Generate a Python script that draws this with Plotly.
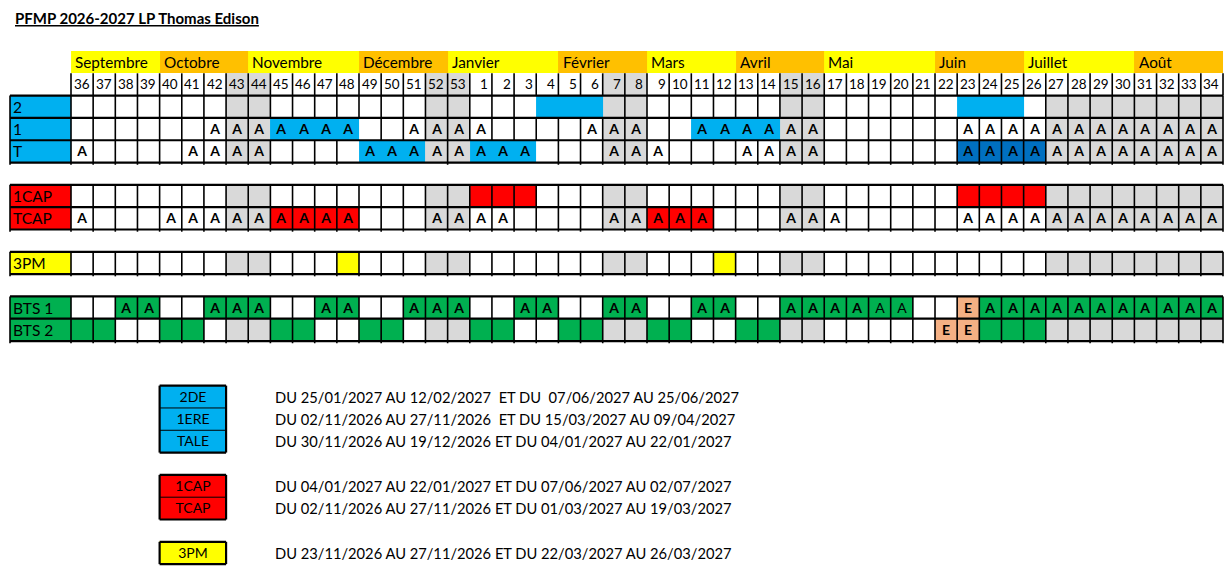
import plotly.graph_objects as go

# ---------------- data ----------------
TITLE = "PFMP 2026-2027 LP Thomas Edison"

weeks = list(range(36, 54)) + list(range(1, 35))

months = ["Septembre", "Octobre", "Novembre", "Décembre", "Janvier", "Février",
          "Mars", "Avril", "Mai", "Juin", "Juillet", "Août"]
month_spans = [4, 4, 5, 4, 5, 4, 4, 4, 5, 4, 5, 4]

# one character per week column (36..53 | 1..34)
# w=white g=holiday b=PFMP d=PFMP(dark) r=CAP y=3PM G=BTS o=exam
header_fill = "wwwwwwwggwwwwwwwgg" + "wwwwwwgg" + "wwwwwwgg" + "wwwwwwwwww" + "wwwwwwww"

row_labels = ["2", "1", "T", "1CAP", "TCAP", "3PM", "BTS 1", "BTS 2"]
row_label_fill = ["b", "b", "b", "r", "r", "y", "G", "G"]

fill_2 = "wwwwwwwggwwwwwwwgg" + "wwwbbbgg" + "wwwwwwgg" + "wwwwwwbbbw" + "gggggggg"
text_2 = " " * 52
fill_1 = "wwwwwwwggbbbbwwwgg" + "wwwwwwgg" + "wwbbbbgg" + "wwwwwwwwww" + "gggggggg"
text_1 = "      AAAAAAA  AAA" + "A    AAA" + "  AAAAAA" + "      AAAA" + "AAAAAAAA"
fill_T = "wwwwwwwggwwwwbbbgg" + "bbbwwwgg" + "wwwwwwgg" + "wwwwwwdddd" + "gggggggg"
text_T = "A    AAAA    AAAAA" + "AAA   AA" + "A   AAAA" + "      AAAA" + "AAAAAAAA"
fill_1CAP = "wwwwwwwggwwwwwwwgg" + "rrrwwwgg" + "wwwwwwgg" + "wwwwwwrrrr" + "gggggggg"
text_1CAP = " " * 52
fill_TCAP = "wwwwwwwggrrrrwwwgg" + "wwwwwwgg" + "rrrwwwgg" + "wwwwwwwwww" + "gggggggg"
text_TCAP = "A   AAAAAAAAA   AA" + "AA    AA" + "AAA   AA" + "A     AAAA" + "AAAAAAAA"
fill_3PM = "wwwwwwwggwwwywwwgg" + "wwwwwwgg" + "wwwywwgg" + "wwwwwwwwww" + "gggggggg"
text_3PM = " " * 52
fill_BTS1 = "wwGGwwGGGwwGGwwGGG" + "wwGGwwGG" + "wwGGwwGG" + "GGGGwwoGGG" + "GGGGGGGG"
text_BTS1 = "  AA  AAA  AA  AAA" + "  AA  AA" + "  AA  AA" + "AAaa  EAAA" + "AAAAAAAA"
fill_BTS2 = "GGwwGGwggGGwwGGwgg" + "GGwwGGgg" + "GGwwGGgg" + "wwwwwooGGG" + "gggggggg"
text_BTS2 = " " * 34 + "     EE   " + " " * 8

row_fills = [fill_2, fill_1, fill_T, fill_1CAP, fill_TCAP, fill_3PM, fill_BTS1, fill_BTS2]
row_texts = [text_2, text_1, text_T, text_1CAP, text_TCAP, text_3PM, text_BTS1, text_BTS2]

legend_labels = ["2DE", "1ERE", "TALE", "1CAP", "TCAP", "3PM"]
legend_fill = ["b", "b", "b", "r", "r", "y"]
legend_text = [
    "DU 25/01/2027 AU 12/02/2027\u00a0 ET DU\u00a0 07/06/2027 AU 25/06/2027",
    "DU 02/11/2026 AU 27/11/2026\u00a0 ET DU 15/03/2027 AU 09/04/2027",
    "DU 30/11/2026 AU 19/12/2026 ET DU 04/01/2027 AU 22/01/2027",
    "DU 04/01/2027 AU 22/01/2027 ET DU 07/06/2027 AU 02/07/2027",
    "DU 02/11/2026 AU 27/11/2026 ET DU 01/03/2027 AU 19/03/2027",
    "DU 23/11/2026 AU 27/11/2026 ET DU 22/03/2027 AU 26/03/2027",
]

# ---------------- style ----------------
CODES = "wgbdryGoO"
PALETTE = ["#FFFFFF", "#D9D9D9", "#00B0F0", "#0070C0", "#FF0000",
           "#FFFF00", "#00B050", "#F4B084", "#FFC000"]
colorscale = [[i / (len(CODES) - 1), c] for i, c in enumerate(PALETTE)]
FONT = "Lato"
NCOL = len(weeks)
LW = 2.753          # label column width (in week columns)
STUB = 0.1


def code(ch):
    return CODES.index(ch)


# ---------------- main grid heatmap ----------------
z, txt = [], []
# month row
mrow = []
for i, span in enumerate(month_spans):
    mrow += [code("y" if i % 2 == 0 else "O")] * span
z.append([None] + mrow)
txt.append([""] * (NCOL + 1))
# week number row
z.append([None] + [code(c) for c in header_fill])
txt.append([""] * (NCOL + 1))

groups = []
row_y = []
prev = None
for lab, lf, f, t in zip(row_labels, row_label_fill, row_fills, row_texts):
    if prev is not None and lf != prev:
        z.append([None] * (NCOL + 1))
        txt.append([""] * (NCOL + 1))
        groups.append([])
    if prev is None:
        groups.append([])
    prev = lf
    r = len(z)
    groups[-1].append(r)
    row_y.append(r)
    z.append([code(lf)] + [code(c) for c in f])
    cells = [""]
    for ch in t:
        if ch == " ":
            cells.append("")
        elif ch.islower():
            cells.append(ch.upper())
        else:
            cells.append("<b>" + ch + "</b>")
    txt.append(cells)

nrows = len(z)
x_edges = [-LW] + list(range(0, NCOL + 1))
y_edges = list(range(0, nrows + 1))

fig = go.Figure()
fig.add_trace(go.Heatmap(
    z=z, x=x_edges, y=y_edges, text=txt, texttemplate="%{text}",
    textfont=dict(family=FONT, size=14, color="black"),
    colorscale=colorscale, zmin=0, zmax=len(CODES) - 1,
    showscale=False, hoverinfo="skip"))

# ---------------- legend heatmap ----------------
leg_top = nrows + 2
lz, lt, lrows = [], [], []
prev = None
for lab, lf in zip(legend_labels, legend_fill):
    if prev is not None and lf != prev:
        lz.append([None])
        lt.append([""])
    prev = lf
    lrows.append(leg_top + len(lz))
    lz.append([code(lf)])
    lt.append([lab])
leg_x = [4, 7]
fig.add_trace(go.Heatmap(
    z=lz, x=leg_x, y=list(range(leg_top, leg_top + len(lz) + 1)), text=lt,
    texttemplate="%{text}", textfont=dict(family=FONT, size=14, color="black"),
    colorscale=colorscale, zmin=0, zmax=len(CODES) - 1,
    showscale=False, hoverinfo="skip"))

# ---------------- borders ----------------
hx, hy, vx, vy, tx, ty = [], [], [], [], [], []


def seg(xs, ys, x0, y0, x1, y1):
    xs += [x0, x1, None]
    ys += [y0, y1, None]


# header week row verticals
for k in range(NCOL + 1):
    seg(vx, vy, k, 1, k, 2)

fills_by_row = dict(zip(row_y, row_fills))
for g in groups:
    top, bot = g[0], g[-1] + 1
    for yy in range(top, bot + 1):
        seg(hx, hy, -LW, yy, NCOL, yy)
    seg(vx, vy, -LW, top, -LW, bot + STUB)
    seg(vx, vy, 0, top, 0, bot + STUB)
    for k in range(1, NCOL + 1):
        run_start = None
        for r in g + [None]:
            draw = False
            if r is not None:
                f = fills_by_row[r]
                left = f[k - 1]
                right = f[k] if k < NCOL else "w"
                draw = not (left == "b" or right == "b")
            if draw and run_start is None:
                run_start = r
            if not draw and run_start is not None:
                end = r if r is not None else bot
                seg(vx, vy, k, run_start, k, end + (STUB if end == bot else 0))
                run_start = None

# legend box borders
lgroups = []
prev = None
for r, lf in zip(lrows, legend_fill):
    if lf != prev:
        lgroups.append([])
    prev = lf
    lgroups[-1].append(r)
for g in lgroups:
    top, bot = g[0], g[-1] + 1
    seg(hx, hy, leg_x[0], top, leg_x[1], top)
    seg(hx, hy, leg_x[0], bot, leg_x[1], bot)
    seg(hx, hy, leg_x[0], top, leg_x[0], bot)
    seg(hx, hy, leg_x[1], top, leg_x[1], bot)
    for yy in range(top + 1, bot):
        seg(tx, ty, leg_x[0], yy, leg_x[1], yy)

fig.add_trace(go.Scatter(x=vx, y=vy, mode="lines", line=dict(color="black", width=1.6),
                         hoverinfo="skip"))
fig.add_trace(go.Scatter(x=hx, y=hy, mode="lines", line=dict(color="black", width=2.2),
                         hoverinfo="skip"))
fig.add_trace(go.Scatter(x=tx, y=ty, mode="lines", line=dict(color="black", width=1),
                         hoverinfo="skip"))

# ---------------- text ----------------
ann = []
ann.append(dict(x=-LW + 0.14, y=-1.5, text="<b>" + TITLE + "</b>", xanchor="left",
                showarrow=False, font=dict(family=FONT, size=15, color="black",
                                           lineposition="under")))
start = 0
for m, span in zip(months, month_spans):
    ann.append(dict(x=start + 0.1, y=0.5, text=m, xanchor="left", showarrow=False,
                    font=dict(family=FONT, size=15.3, color="black")))
    start += span
for k, w in enumerate(weeks):
    ann.append(dict(x=k + 1 - 0.07, y=1.5, text=str(w), xanchor="right", showarrow=False,
                    font=dict(family=FONT, size=13.5, color="black")))
for lab, r in zip(row_labels, row_y):
    ann.append(dict(x=-LW + 0.05, y=r + 0.5, text=lab, xanchor="left", showarrow=False,
                    font=dict(family=FONT, size=15.5, color="black")))
for t, r in zip(legend_text, lrows):
    ann.append(dict(x=9.1, y=r + 0.5, text=t, xanchor="left", showarrow=False,
                    font=dict(family=FONT, size=14.7, color="black")))

PX_X, PX_Y = 22.154, 22.31
fig.update_layout(
    width=1231, height=577, margin=dict(l=0, r=0, t=0, b=0),
    paper_bgcolor="white", plot_bgcolor="white", showlegend=False,
    annotations=ann,
    xaxis=dict(visible=False, range=[-71 / PX_X, (1231 - 71) / PX_X], fixedrange=True),
    yaxis=dict(visible=False, range=[(577 - 51) / PX_Y, -51 / PX_Y], fixedrange=True),
)

fig.write_html("out.html", config={"displayModeBar": False},
               post_script="document.body.style.margin='0px';")
